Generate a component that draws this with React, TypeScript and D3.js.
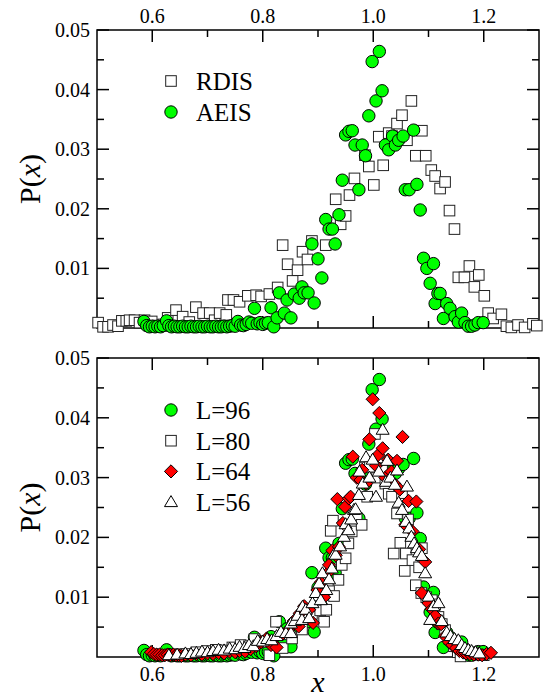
import React, { useEffect, useRef } from 'react';
import * as d3 from 'd3';

// ---- data: [x, P(x)] ----
const rdis = [
  [0.502, 0.0009], [0.511, 0.0002], [0.520, 0.0002], [0.529, 0.0005], [0.538, 0.0003],
  [0.545, 0.0012], [0.553, 0.0012], [0.559, 0.0013], [0.568, 0.0013], [0.577, 0.0009],
  [0.586, 0.0013], [0.599, 0.0011], [0.610, 0.0004], [0.620, 0.0006], [0.628, 0.0017],
  [0.643, 0.0030], [0.655, 0.0019], [0.667, 0.0010], [0.679, 0.0035], [0.692, 0.0025],
  [0.704, 0.0025], [0.713, 0.0013], [0.722, 0.0025], [0.734, 0.0022], [0.737, 0.0047],
  [0.747, 0.0047], [0.758, 0.0044], [0.773, 0.0054], [0.788, 0.0055], [0.797, 0.0053],
  [0.812, 0.0057], [0.827, 0.0068], [0.836, 0.0139], [0.845, 0.0107], [0.854, 0.0079],
  [0.863, 0.0097], [0.872, 0.0128], [0.881, 0.0115], [0.889, 0.0146], [0.914, 0.0139],
  [0.923, 0.0177], [0.932, 0.0216], [0.941, 0.0174], [0.950, 0.0188], [0.957, 0.0223],
  [0.966, 0.0251], [0.985, 0.0290], [0.992, 0.0271], [1.001, 0.0240], [1.010, 0.0321],
  [1.018, 0.0273], [1.028, 0.0327], [1.034, 0.0322], [1.043, 0.0343], [1.052, 0.0357],
  [1.061, 0.0315], [1.069, 0.0381], [1.077, 0.0289], [1.088, 0.0331], [1.095, 0.0289],
  [1.105, 0.0265], [1.112, 0.0255], [1.121, 0.0234], [1.130, 0.0245], [1.138, 0.0197],
  [1.147, 0.0166], [1.154, 0.0085], [1.165, 0.0085], [1.174, 0.0104], [1.183, 0.0069],
  [1.191, 0.0089], [1.201, 0.0054], [1.208, 0.0025], [1.217, 0.0016], [1.232, 0.0023],
  [1.241, 0.0003], [1.250, 0.0001], [1.262, 0.0005], [1.274, 0.0001], [1.289, 0.0007],
  [1.296, 0.0004],
];

// AEIS (top) is the same set as L=96 (bottom)
const aeis = [
  [0.585, 0.0011], [0.590, 0.0004], [0.595, 0.0002], [0.600, 0.0003], [0.605, 0.0002],
  [0.610, 0.0003], [0.615, 0.0002], [0.620, 0.0004], [0.626, 0.0012], [0.630, 0.0004],
  [0.635, 0.0002], [0.640, 0.0003], [0.645, 0.0002], [0.650, 0.0002], [0.655, 0.0003],
  [0.660, 0.0002], [0.665, 0.0002], [0.670, 0.0003], [0.675, 0.0002], [0.680, 0.0002],
  [0.685, 0.0003], [0.690, 0.0002], [0.695, 0.0002], [0.700, 0.0003], [0.705, 0.0002],
  [0.710, 0.0002], [0.715, 0.0003], [0.720, 0.0002], [0.725, 0.0002], [0.730, 0.0003],
  [0.735, 0.0002], [0.740, 0.0003], [0.745, 0.0004], [0.750, 0.0003], [0.755, 0.0011],
  [0.760, 0.0005], [0.765, 0.0004], [0.770, 0.0006], [0.775, 0.0010], [0.780, 0.0008],
  [0.785, 0.0033], [0.790, 0.0007], [0.795, 0.0009], [0.800, 0.0006], [0.805, 0.0008],
  [0.810, 0.0009], [0.815, 0.0034], [0.820, 0.0002], [0.826, 0.0017], [0.830, 0.0059],
  [0.839, 0.0025], [0.844, 0.0047], [0.851, 0.0017], [0.857, 0.0057], [0.866, 0.0050],
  [0.871, 0.0069], [0.875, 0.0059], [0.882, 0.0059], [0.889, 0.0141], [0.893, 0.0042],
  [0.900, 0.0116], [0.907, 0.0084], [0.914, 0.0182], [0.920, 0.0166], [0.926, 0.0166],
  [0.931, 0.0141], [0.938, 0.0190], [0.944, 0.0248], [0.950, 0.0324], [0.956, 0.0330],
  [0.962, 0.0331], [0.967, 0.0307], [0.974, 0.0232], [0.980, 0.0307], [0.986, 0.0289],
  [0.992, 0.0356], [0.998, 0.0447], [1.005, 0.0381], [1.011, 0.0464], [1.016, 0.0398],
  [1.022, 0.0307], [1.028, 0.0299], [1.035, 0.0322], [1.040, 0.0307], [1.046, 0.0315],
  [1.054, 0.0322], [1.058, 0.0232], [1.065, 0.0232], [1.073, 0.0332], [1.079, 0.0241],
  [1.085, 0.0198], [1.091, 0.0117], [1.097, 0.0100], [1.103, 0.0075], [1.109, 0.0108],
  [1.112, 0.0041], [1.117, 0.0058], [1.121, 0.0058], [1.127, 0.0016], [1.133, 0.0041],
  [1.139, 0.0033], [1.148, 0.0019], [1.154, 0.0010], [1.160, 0.0025], [1.166, 0.0009],
  [1.172, 0.0003], [1.178, 0.0003], [1.184, 0.0005], [1.190, 0.0009], [1.199, 0.0009],
];

const l80 = [
  [0.620, 0.0003], [0.640, 0.0004], [0.660, 0.0005], [0.680, 0.0008], [0.700, 0.0010],
  [0.715, 0.0012], [0.730, 0.0011], [0.745, 0.0016], [0.760, 0.0020], [0.775, 0.0018],
  [0.785, 0.0030], [0.800, 0.0025], [0.812, 0.0003], [0.824, 0.0059], [0.836, 0.0015],
  [0.845, 0.0038], [0.853, 0.0031], [0.862, 0.0055], [0.871, 0.0046], [0.880, 0.0068],
  [0.889, 0.0072], [0.897, 0.0085], [0.904, 0.0078], [0.911, 0.0059], [0.915, 0.0079],
  [0.920, 0.0110], [0.923, 0.0211], [0.927, 0.0228], [0.929, 0.0102], [0.937, 0.0129],
  [0.943, 0.0154], [0.950, 0.0165], [0.955, 0.0190], [0.961, 0.0210], [0.970, 0.0232],
  [0.979, 0.0221], [0.985, 0.0317], [0.989, 0.0268], [0.994, 0.0318], [1.003, 0.0373],
  [1.007, 0.0300], [1.016, 0.0316], [1.022, 0.0290], [1.028, 0.0273], [1.034, 0.0268],
  [1.037, 0.0173], [1.043, 0.0240], [1.049, 0.0191], [1.052, 0.0274], [1.057, 0.0144],
  [1.059, 0.0173], [1.063, 0.0230], [1.071, 0.0162], [1.077, 0.0120], [1.083, 0.0150],
  [1.088, 0.0182], [1.087, 0.0107], [1.096, 0.0100], [1.106, 0.0095], [1.112, 0.0088],
  [1.118, 0.0067], [1.124, 0.0055], [1.130, 0.0045], [1.138, 0.0030], [1.146, 0.0018],
  [1.153, 0.0008], [1.158, 0.0001], [1.165, 0.0012], [1.172, 0.0006], [1.180, 0.0008],
  [1.190, 0.0004], [1.200, 0.0003],
];

const l64 = [
  [0.598, 0.0008], [0.603, 0.0005], [0.608, 0.0004], [0.613, 0.0004], [0.618, 0.0003],
  [0.623, 0.0003], [0.628, 0.0004], [0.633, 0.0003], [0.638, 0.0004], [0.643, 0.0003],
  [0.648, 0.0003], [0.653, 0.0002], [0.660, 0.0004], [0.670, 0.0003], [0.680, 0.0005],
  [0.690, 0.0004], [0.700, 0.0006], [0.710, 0.0005], [0.720, 0.0007], [0.730, 0.0006],
  [0.740, 0.0009], [0.750, 0.0008], [0.758, 0.0010], [0.768, 0.0009], [0.778, 0.0013],
  [0.788, 0.0018], [0.797, 0.0025], [0.807, 0.0031], [0.815, 0.0020], [0.825, 0.0016],
  [0.835, 0.0038], [0.846, 0.0045], [0.856, 0.0060], [0.865, 0.0051], [0.867, 0.0073],
  [0.875, 0.0085], [0.884, 0.0079], [0.891, 0.0057], [0.899, 0.0112], [0.905, 0.0125],
  [0.911, 0.0100], [0.917, 0.0140], [0.920, 0.0154], [0.926, 0.0178], [0.932, 0.0170],
  [0.938, 0.0184], [0.945, 0.0224], [0.949, 0.0251], [0.935, 0.0264], [0.956, 0.0265],
  [0.959, 0.0268], [0.963, 0.0335], [0.970, 0.0300], [0.977, 0.0296], [0.980, 0.0313],
  [0.987, 0.0290], [0.993, 0.0364], [0.999, 0.0431], [1.005, 0.0320], [1.009, 0.0338],
  [1.011, 0.0408], [1.017, 0.0349], [1.022, 0.0300], [1.027, 0.0330], [1.033, 0.0310],
  [1.038, 0.0290], [1.043, 0.0328], [1.048, 0.0280], [1.053, 0.0368], [1.058, 0.0221],
  [1.064, 0.0261], [1.071, 0.0210], [1.078, 0.0260], [1.083, 0.0180], [1.088, 0.0107],
  [1.094, 0.0159], [1.100, 0.0090], [1.106, 0.0080], [1.112, 0.0069], [1.118, 0.0056],
  [1.123, 0.0055], [1.130, 0.0035], [1.137, 0.0025], [1.143, 0.0020], [1.150, 0.0015],
  [1.156, 0.0010], [1.162, 0.0008], [1.168, 0.0006], [1.175, 0.0005], [1.182, 0.0004],
  [1.190, 0.0004], [1.197, 0.0003], [1.205, 0.0005], [1.213, 0.0007],
];

const l56 = [
  [0.630, 0.0003], [0.645, 0.0004], [0.660, 0.0006], [0.670, 0.0005], [0.680, 0.0007],
  [0.690, 0.0009], [0.700, 0.0008], [0.710, 0.0010], [0.720, 0.0012], [0.730, 0.0011],
  [0.740, 0.0014], [0.750, 0.0013], [0.758, 0.0017], [0.767, 0.0015], [0.775, 0.0020],
  [0.783, 0.0018], [0.791, 0.0027], [0.800, 0.0026], [0.808, 0.0030], [0.816, 0.0028],
  [0.825, 0.0035], [0.833, 0.0042], [0.842, 0.0040], [0.851, 0.0040], [0.851, 0.0056],
  [0.858, 0.0060], [0.863, 0.0069], [0.871, 0.0062], [0.872, 0.0084], [0.878, 0.0079],
  [0.884, 0.0065], [0.890, 0.0090], [0.896, 0.0107], [0.902, 0.0123], [0.905, 0.0095],
  [0.908, 0.0140], [0.915, 0.0112], [0.920, 0.0130], [0.925, 0.0148], [0.929, 0.0172],
  [0.932, 0.0171], [0.940, 0.0185], [0.947, 0.0201], [0.950, 0.0222], [0.955, 0.0212],
  [0.960, 0.0230], [0.965, 0.0246], [0.968, 0.0247], [0.974, 0.0271], [0.975, 0.0310],
  [0.981, 0.0290], [0.987, 0.0334], [0.993, 0.0300], [0.999, 0.0330], [1.005, 0.0268],
  [1.010, 0.0310], [1.017, 0.0380], [1.023, 0.0293], [1.025, 0.0328], [1.031, 0.0300],
  [1.039, 0.0288], [1.043, 0.0312], [1.046, 0.0258], [1.052, 0.0246], [1.059, 0.0226],
  [1.061, 0.0285], [1.065, 0.0215], [1.069, 0.0201], [1.074, 0.0190], [1.079, 0.0182],
  [1.083, 0.0175], [1.088, 0.0169], [1.094, 0.0140], [1.100, 0.0101], [1.103, 0.0062],
  [1.109, 0.0085], [1.118, 0.0090], [1.124, 0.0060], [1.133, 0.0041], [1.140, 0.0035],
  [1.147, 0.0030], [1.154, 0.0028], [1.160, 0.0020], [1.166, 0.0015], [1.172, 0.0012],
  [1.178, 0.0010], [1.185, 0.0008], [1.192, 0.0006],
];

const xMajor = [0.6, 0.8, 1.0, 1.2];
const xMinor = [0.7, 0.9, 1.1];
const yMajor = [0.01, 0.02, 0.03, 0.04, 0.05];
const yMinor = [0.005, 0.015, 0.025, 0.035, 0.045];

const topLegend = ['RDIS', 'AEIS'];
const bottomLegend = ['L=96', 'L=80', 'L=64', 'L=56'];

const FONT = "'Liberation Serif', 'Times New Roman', Times, serif";

// marker painters
function circle(g, x, y) {
  g.append('circle').attr('cx', x).attr('cy', y).attr('r', 6.2)
    .attr('fill', '#00ff00').attr('stroke', '#000').attr('stroke-width', 1);
}
function square(g, x, y) {
  g.append('rect').attr('x', x - 5.3).attr('y', y - 5.3).attr('width', 10.6).attr('height', 10.6)
    .attr('fill', '#fff').attr('stroke', '#222').attr('stroke-width', 1);
}
function diamond(g, x, y) {
  const h = 6.6;
  g.append('path').attr('d', `M${x},${y - h}L${x + h},${y}L${x},${y + h}L${x - h},${y}Z`)
    .attr('fill', '#ff0000').attr('stroke', '#000').attr('stroke-width', 1);
}
function triangle(g, x, y) {
  g.append('path').attr('d', `M${x},${y - 6.5}L${x + 6.5},${y + 4.5}L${x - 6.5},${y + 4.5}Z`)
    .attr('fill', '#fff').attr('stroke', '#000').attr('stroke-width', 1);
}

export default function App() {
  const ref = useRef(null);

  useEffect(() => {
    const svg = d3.select(ref.current);
    svg.selectAll('*').remove();

    const left = 97, right = 539;
    const x = d3.scaleLinear().domain([0.5, 1.3]).range([left, right]);

    function panel(top, bottom, labelsOnTop) {
      const y = d3.scaleLinear().domain([0, 0.05]).range([bottom, top]);
      const g = svg.append('g');

      // ticks (inward, on all four sides)
      const tk = g.append('g').attr('stroke', '#000').attr('stroke-width', 1.5);
      [[xMajor, 12], [xMinor, 7]].forEach(([vals, len]) => {
        vals.forEach(v => {
          tk.append('line').attr('x1', x(v)).attr('x2', x(v)).attr('y1', top).attr('y2', top + len);
          tk.append('line').attr('x1', x(v)).attr('x2', x(v)).attr('y1', bottom).attr('y2', bottom - len);
        });
      });
      [[yMajor, 12], [yMinor, 7]].forEach(([vals, len]) => {
        vals.forEach(v => {
          tk.append('line').attr('y1', y(v)).attr('y2', y(v)).attr('x1', left).attr('x2', left + len);
          tk.append('line').attr('y1', y(v)).attr('y2', y(v)).attr('x1', right).attr('x2', right - len);
        });
      });

      g.append('rect').attr('x', left).attr('y', top)
        .attr('width', right - left).attr('height', bottom - top)
        .attr('fill', 'none').attr('stroke', '#000').attr('stroke-width', 1.5);

      // tick labels
      yMajor.forEach(v => {
        g.append('text').attr('x', left - 7).attr('y', y(v) + 7)
          .attr('text-anchor', 'end').style('font-family', FONT).attr('font-size', 20)
          .text(d3.format('.2f')(v));
      });
      xMajor.forEach(v => {
        g.append('text').attr('x', x(v))
          .attr('y', labelsOnTop ? top - 7 : bottom + 24)
          .attr('text-anchor', 'middle').style('font-family', FONT).attr('font-size', 20)
          .text(d3.format('.1f')(v));
      });

      // y label P(x)
      const yl = g.append('text')
        .attr('transform', `translate(40,${(top + bottom) / 2}) rotate(-90)`)
        .attr('text-anchor', 'middle').style('font-family', FONT).attr('font-size', 30);
      yl.append('tspan').text('P(');
      yl.append('tspan').attr('font-style', 'italic').text('x');
      yl.append('tspan').text(')');

      return { g, y };
    }

    // ---- top panel ----
    const p1 = panel(30, 328, true);
    const m1 = p1.g.append('g');
    rdis.forEach(d => square(m1, x(d[0]), p1.y(d[1])));
    aeis.forEach(d => circle(m1, x(d[0]), p1.y(d[1])));

    const lg1 = p1.g.append('g');
    [square, circle].forEach((fn, i) => {
      const ly = 81 + i * 31;
      fn(lg1, 171, ly);
      lg1.append('text').attr('x', 196).attr('y', ly + 9)
        .style('font-family', FONT).attr('font-size', 25).text(topLegend[i]);
    });

    // ---- bottom panel ----
    const p2 = panel(358, 657, false);
    const m2 = p2.g.append('g');
    aeis.forEach(d => circle(m2, x(d[0]), p2.y(d[1])));
    l80.forEach(d => square(m2, x(d[0]), p2.y(d[1])));
    l64.forEach(d => diamond(m2, x(d[0]), p2.y(d[1])));
    l56.forEach(d => triangle(m2, x(d[0]), p2.y(d[1])));

    const lg2 = p2.g.append('g');
    [circle, square, diamond, triangle].forEach((fn, i) => {
      const ly = 410 + i * 30.7;
      fn(lg2, 171, ly);
      lg2.append('text').attr('x', 196).attr('y', ly + 9)
        .style('font-family', FONT).attr('font-size', 25).text(bottomLegend[i]);
    });

    // x axis label
    svg.append('text').attr('x', (left + right) / 2).attr('y', 692)
      .attr('text-anchor', 'middle').style('font-family', FONT)
      .attr('font-size', 30).attr('font-style', 'italic').text('x');
  }, []);

  return (
    <svg ref={ref} width={545} height={700}
      style={{ position: 'absolute', left: 0, top: 0, background: '#fff' }} />
  );
}
